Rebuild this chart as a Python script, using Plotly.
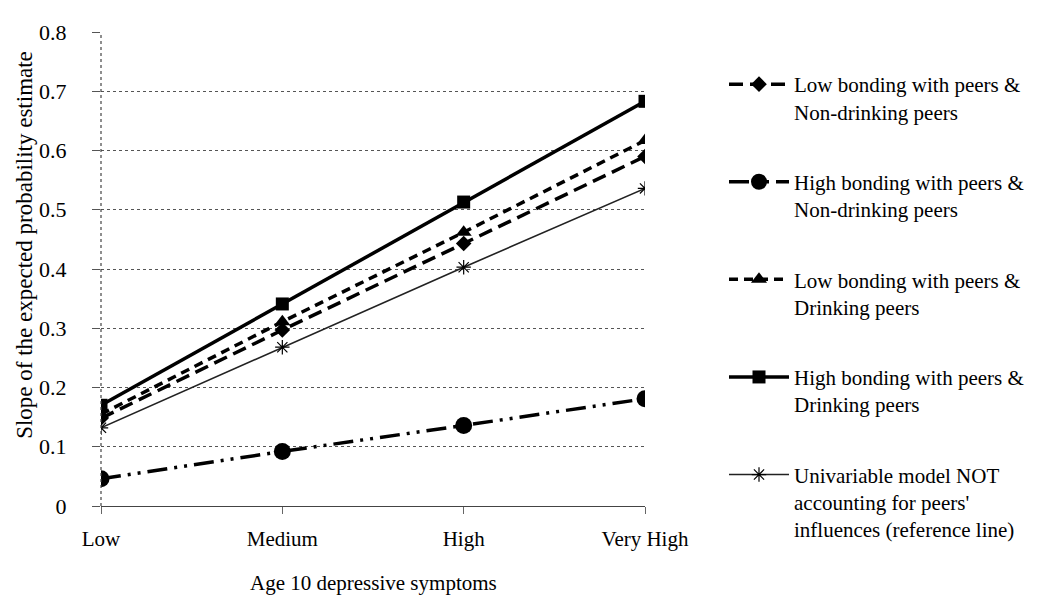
import plotly.graph_objects as go

categories = ["Low", "Medium", "High", "Very High"]

low_bond_nondrink = [0.148, 0.297, 0.443, 0.590]
high_bond_nondrink = [0.046, 0.092, 0.136, 0.181]
low_bond_drink = [0.155, 0.311, 0.462, 0.617]
high_bond_drink = [0.170, 0.341, 0.513, 0.683]
univariable = [0.132, 0.268, 0.403, 0.536]

series_names = [
    "Low bonding with peers &<br>Non-drinking peers",
    "High bonding with peers &<br>Non-drinking peers",
    "Low bonding with peers &<br>Drinking peers",
    "High bonding with peers &<br>Drinking peers",
    "Univariable model NOT<br>accounting for peers'<br>influences (reference line)",
]

FONT = "Liberation Serif, Times New Roman, serif"
W, H = 1057, 599
L, R_EDGE, TOP, BOT = 93, 637, 17, 498

fig = go.Figure()

styles = [
    (low_bond_nondrink, dict(color="black", width=3.5, dash="14px,7px"), dict(symbol="diamond", size=12)),
    (high_bond_nondrink, dict(color="black", width=3.5, dash="20px,7px,3px,7px,3px,7px"), dict(symbol="circle", size=17)),
    (low_bond_drink, dict(color="black", width=3.5, dash="9px,6px"), dict(symbol="triangle-up", size=14)),
    (high_bond_drink, dict(color="black", width=3.5), dict(symbol="square", size=13)),
    (univariable, dict(color="#222", width=1.6), dict(symbol="asterisk-open", size=12, line=dict(width=1.2, color="#222"))),
]

for i, ((vals, line, marker), name) in enumerate(zip(styles, series_names)):
    marker = dict(marker)
    marker.setdefault("color", "black")
    fig.add_trace(go.Scatter(
        x=categories, y=vals, name=name, mode="lines+markers",
        line=line, marker=marker, legendgroup=f"g{i}",
    ))

fig.update_layout(
    width=W, height=H,
    paper_bgcolor="white", plot_bgcolor="white",
    margin=dict(l=L, r=W - R_EDGE, t=TOP, b=H - BOT),
    font=dict(family=FONT, size=20, color="black"),
    showlegend=True,
    legend=dict(
        xref="container", yref="container",
        x=716 / W, y=1 - 56 / H, xanchor="left", yanchor="top",
        font=dict(family=FONT, size=21, color="black"),
        valign="top", itemwidth=60, tracegroupgap=40,
        bgcolor="rgba(0,0,0,0)", maxheight=570,
    ),
)

fig.update_xaxes(
    type="category", range=[0, 3],
    showline=True, linecolor="#444", linewidth=1.2,
    ticks="outside", ticklen=7, tickcolor="#666",
    showgrid=False, zeroline=False,
    ticklabelstandoff=7,
    tickfont=dict(family=FONT, size=21),
)
fig.update_yaxes(
    range=[0, 0.8], dtick=0.1, tick0=0,
    showline=False,
    showgrid=True, gridcolor="#555", gridwidth=1, griddash="dot",
    ticks="outside", ticklen=8, tickcolor="#555",
    zeroline=False,
    ticklabelstandoff=21,
    tickfont=dict(family=FONT, size=22),
)

# dotted y-axis line
fig.add_shape(type="line", xref="paper", yref="paper", x0=0, x1=0, y0=0, y1=1,
              line=dict(color="#444", width=1.2, dash="dot"))

ph = BOT - TOP
fig.add_annotation(text="Age 10 depressive symptoms", xref="paper", yref="paper",
                   x=0.5, y=(BOT - 576) / ph, showarrow=False,
                   font=dict(family=FONT, size=21), xanchor="center", yanchor="middle")
fig.add_annotation(text="Slope of the expected probability estimate", xref="paper", yref="paper",
                   x=(17 - L) / (R_EDGE - L), y=(BOT - 233) / ph, showarrow=False, textangle=-90,
                   font=dict(family=FONT, size=23), xanchor="center", yanchor="middle")

fig.write_html("out.html")
